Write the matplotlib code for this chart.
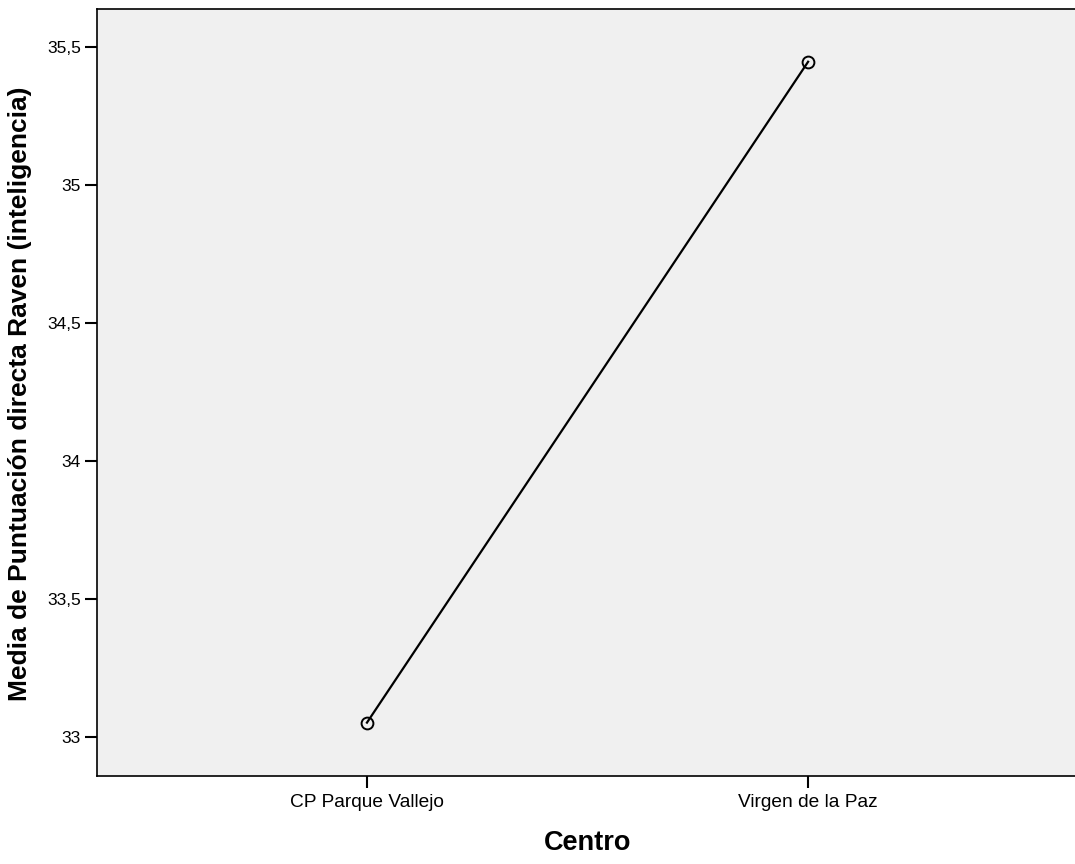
import matplotlib
matplotlib.use("Agg")
import matplotlib.pyplot as plt
from matplotlib.ticker import FuncFormatter

plt.rcParams['font.family'] = ['Liberation Sans', 'DejaVu Sans']

# datos
centros = ["CP Parque Vallejo", "Virgen de la Paz"]
medias = [33.053, 35.445]
yticks = [33, 33.5, 34, 34.5, 35, 35.5]

fig = plt.figure(figsize=(10.75, 8.64), dpi=100)
ax = fig.add_axes([0.0902, 0.1016, 0.9098, 0.8880])
ax.set_facecolor("#f0f0f0")

x = list(range(len(centros)))
ax.plot(x, medias, color="black", lw=1.6, marker="o", markersize=8.5,
        markerfacecolor="none", markeredgecolor="black", markeredgewidth=1.4)

ax.set_xlim(-0.612, 1.605)
ax.set_ylim(32.859, 35.636)
ax.set_xticks(x)
ax.set_xticklabels(centros)
ax.set_yticks(yticks)
ax.yaxis.set_major_formatter(FuncFormatter(lambda v, p: ("%g" % v).replace(".", ",")))

ax.tick_params(axis="both", length=8.5, width=1.5, pad=3)
ax.tick_params(axis="y", labelsize=12.5)
ax.tick_params(axis="x", labelsize=13.8, pad=4)
for s in ["left", "bottom", "top"]:
    ax.spines[s].set_linewidth(1.2)
ax.spines["right"].set_visible(False)

fig.text(0.0185, 0.544, "Media de Puntuación directa Raven (inteligencia)",
         rotation=90, ha="center", va="center", fontsize=19, fontweight="bold")
fig.text(0.5465, 0.024, "Centro", ha="center", va="center",
         fontsize=19.5, fontweight="bold")

fig.savefig("out.png", dpi=100)
